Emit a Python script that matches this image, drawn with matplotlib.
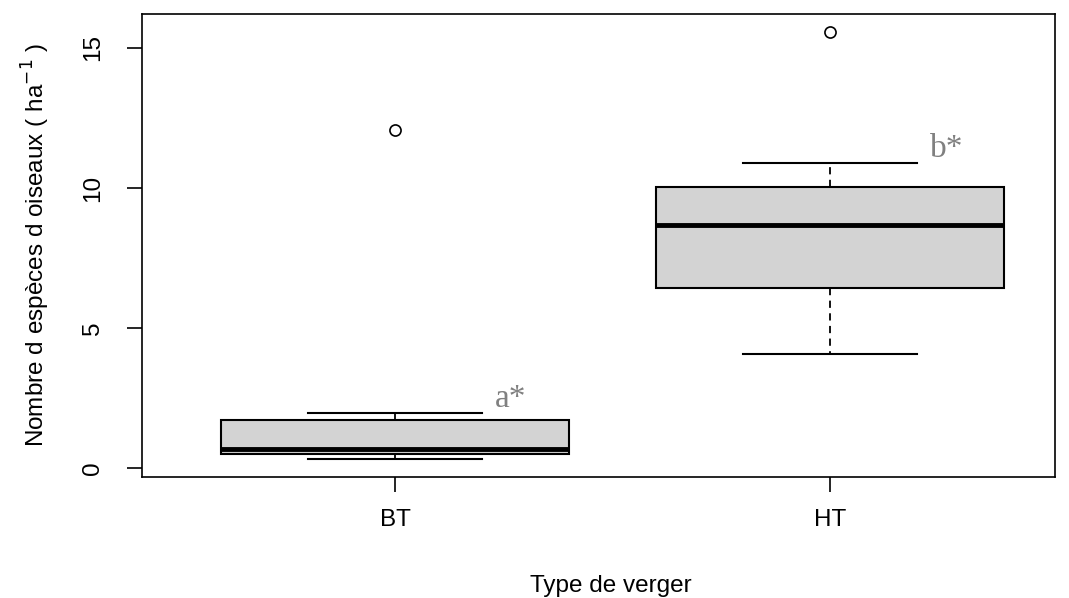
import matplotlib.pyplot as plt

groups = ['BT', 'HT']
whislo = [0.32, 4.07]
q1 = [0.50, 6.43]
med = [0.68, 8.68]
q3 = [1.71, 10.04]
whishi = [1.96, 10.90]
outliers = [[12.07], [15.58]]
letters = ['a*', 'b*']

plt.rcParams['font.family'] = ['Liberation Sans', 'DejaVu Sans']

fig = plt.figure(figsize=(10.69, 5.98), dpi=100)
ax = fig.add_axes([142 / 1069, 1 - 477 / 598, 913 / 1069, 463 / 598])

stats = []
for i, g in enumerate(groups):
    stats.append(dict(label=g, whislo=whislo[i], q1=q1[i], med=med[i],
                      q3=q3[i], whishi=whishi[i], fliers=outliers[i]))

pos = [1, 2]
ax.bxp(stats, positions=pos, widths=0.8, patch_artist=True,
       boxprops=dict(facecolor='#d3d3d3', edgecolor='black', linewidth=1.5),
       medianprops=dict(color='black', linewidth=3.5, solid_capstyle='butt'),
       whiskerprops=dict(color='black', linewidth=1.3, linestyle=(0, (4, 3))),
       capprops=dict(color='black', linewidth=1.5),
       capwidths=0.4,
       flierprops=dict(marker='o', markerfacecolor='none', markeredgecolor='black',
                       markersize=8, markeredgewidth=1.2))

# significance letters next to the upper whisker caps
for i, t in enumerate(letters):
    ax.text(pos[i] + 0.23, whishi[i] + 0.22, t, color='gray', fontsize=24,
            family='Liberation Serif', ha='left', va='baseline')

ax.set_xlim(0.418, 2.517)
ax.set_ylim(-0.32, 16.21)
ax.set_xticks(pos)
ax.set_xticklabels(groups)
ax.set_yticks([0, 5, 10, 15])
ax.set_yticklabels(['0', '5', '10', '15'], rotation=90, va='center')
ax.tick_params(axis='both', direction='out', length=11, width=1.2, labelsize=17.5)
ax.tick_params(axis='x', pad=12)
ax.tick_params(axis='y', pad=16)
for s in ax.spines.values():
    s.set_linewidth(1.2)

ax.set_xlabel('Type de verger', fontsize=17.5)
ax.xaxis.set_label_coords(0.513, -0.211)
ax.xaxis.label.set_va('top')
ax.set_ylabel('Nombre d espèces d oiseaux ( ha$^{-1}$ )', fontsize=17.5, labelpad=22)

fig.savefig('out.png', dpi=100)
